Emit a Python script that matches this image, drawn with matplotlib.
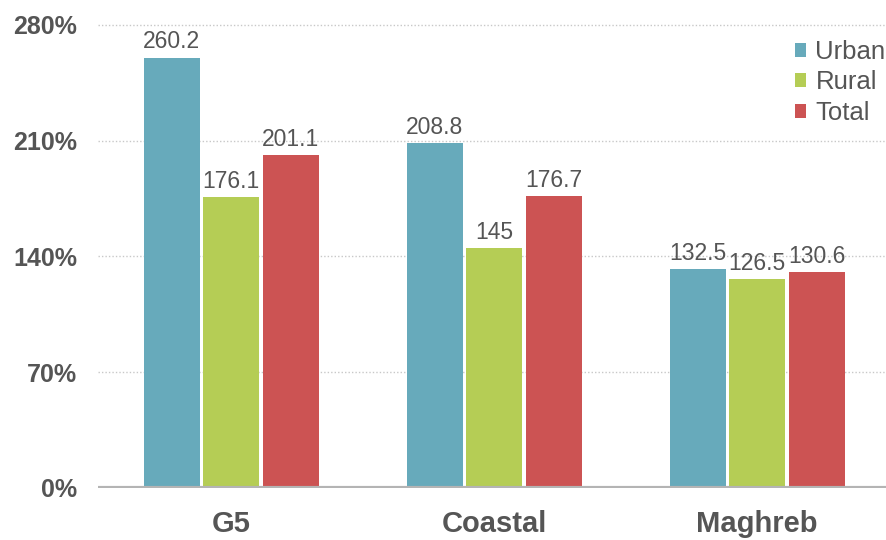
import matplotlib.pyplot as plt
import numpy as np

plt.rcParams['font.family'] = ['Liberation Sans', 'DejaVu Sans']

regions = ['G5', 'Coastal', 'Maghreb']
series = ['Urban', 'Rural', 'Total']
urban = [260.2, 208.8, 132.5]
rural = [176.1, 145, 126.5]
total = [201.1, 176.7, 130.6]
yticks = [0, 70, 140, 210, 280]

colors = ['#67aabb', '#b5cd55', '#cc5353']
values = [urban, rural, total]

fig = plt.figure(figsize=(8.87, 5.40), dpi=100)
ax = fig.add_axes([0.1105, 0.0963, 0.8895, 0.8944])

x = np.arange(len(regions))
width = 0.213
step = 0.226
for i, (name, vals, c) in enumerate(zip(series, values, colors)):
    pos = x + (i - 1) * step
    ax.bar(pos, vals, width, color=c, label=name, zorder=3)
    for p, v in zip(pos, vals):
        ax.text(p, v + 2.5, f'{v:g}', ha='center', va='bottom',
                fontsize=16.5, color='#555555', zorder=4)

ax.set_xlim(-0.506, 2.494)
ax.set_ylim(0, 292)
ax.set_yticks(yticks)
ax.set_yticklabels([f'{t}%' for t in yticks], fontsize=18, fontweight='bold',
                   color='#555555')
ax.set_xticks(x)
ax.set_xticklabels(regions, fontsize=21, fontweight='bold', color='#555555')
ax.tick_params(axis='both', length=0)
ax.tick_params(axis='y', pad=15)
ax.tick_params(axis='x', pad=16)

for t in yticks[1:]:
    ax.axhline(t, color='#c8c8c8', linestyle=(0, (1, 1.5)), linewidth=1, zorder=1)
ax.axhline(0, color='#b4b4b4', linewidth=3, zorder=5)

for s in ax.spines.values():
    s.set_visible(False)

leg = ax.legend(loc='upper right', bbox_to_anchor=(1.021, 0.965), frameon=False,
                fontsize=18.5, handlelength=0.45, handleheight=0.45,
                handletextpad=0.35, labelspacing=0.25, labelcolor='#555555',
                borderpad=0.2)

plt.savefig('out.png', dpi=100)
